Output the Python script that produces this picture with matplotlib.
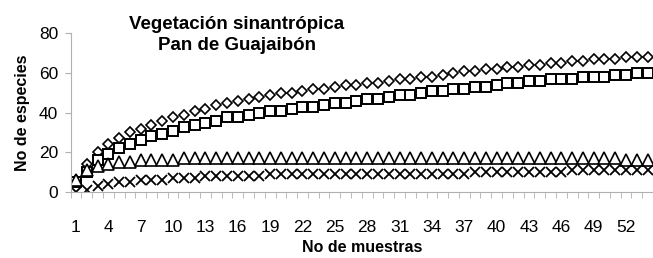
import numpy as np
import matplotlib
matplotlib.use('Agg')
import matplotlib.pyplot as plt

plt.rcParams['font.family'] = ['Liberation Sans', 'DejaVu Sans']

# Data (species accumulation, 54 samples)
muestras = np.arange(1, 55)
diamantes = [6, 14, 20, 24, 27, 30, 32, 34, 36, 38, 39, 41, 42, 44, 45, 46, 47, 48,
             49, 50, 50, 51, 52, 52, 53, 54, 54,
             55, 55, 56, 57, 57, 58, 58, 59, 60,
             61, 61, 62, 62, 63, 63, 64, 64, 65,
             65, 66, 66, 67, 67, 67, 68, 68, 68]
cuadrados = [5, 10, 16, 19, 22, 24, 26, 28, 29, 31, 33, 34, 35, 36, 38, 38, 39, 40,
             41, 41, 42, 43, 43, 44, 45, 45, 46,
             47, 47, 48, 49, 49, 50, 51, 51, 52,
             52, 53, 53, 54, 55, 55, 56, 56, 57,
             57, 57, 58, 58, 58, 59, 59, 60, 60]
triangulos = [6, 11, 13, 14, 15, 15, 16, 16, 16, 16, 17, 17, 17, 17, 17, 17, 17, 17,
              17, 17, 17, 17, 17, 17, 17, 17, 17,
              17, 17, 17, 17, 17, 17, 17, 17, 17,
              17, 17, 17, 17, 17, 17, 17, 17, 17,
              17, 17, 17, 17, 17, 17, 16, 16, 16]
cruces = [0, 1, 3, 4, 5, 5, 6, 6, 6, 7, 7, 7, 8, 8, 8, 8, 8, 8,
          9, 9, 9, 9, 9, 9, 9, 9, 9,
          9, 9, 9, 9, 9, 9, 9, 9, 9,
          9, 10, 10, 10, 10, 10, 10, 10, 10,
          10, 11, 11, 11, 11, 11, 11, 11, 11]
x_labels = muestras[::3]

fig = plt.figure(figsize=(6.53, 2.58), dpi=100)
ax = fig.add_axes([70.6 / 653, 66 / 258, 1 - 70.6 / 653, (192 - 33.3) / 258])

ax.plot(muestras, diamantes, linestyle='none', marker='D', ms=5.5,
        mfc='white', mec='black', mew=1.2)
ax.plot(muestras, cuadrados, linestyle='none', marker='s', ms=7.5,
        mfc='white', mec='black', mew=1.4)
ax.plot(muestras, triangulos, linestyle='none', marker='^', ms=8,
        mfc='white', mec='black', mew=1.2)
ax.plot(muestras, cruces, linestyle='none', marker='x', ms=6.5,
        mec='black', mew=1.3)

ax.set_xlim(0.5, 54.5)
ax.set_ylim(0, 80)
ax.set_yticks([0, 20, 40, 60, 80])
ax.set_xticks(x_labels)
ax.set_xticks(np.arange(0.5, 55, 1), minor=True)
ax.tick_params(axis='x', which='major', length=0, pad=20, labelsize=12.5)
ax.tick_params(axis='x', which='minor', length=4, color='#b0b0b0', direction='out')
ax.tick_params(axis='y', length=4, color='#b0b0b0', pad=5, labelsize=12.5)

for side in ['top', 'right']:
    ax.spines[side].set_visible(False)
for side in ['left', 'bottom']:
    ax.spines[side].set_color('#b0b0b0')

ax.set_xlabel('No de muestras', fontsize=11.5, fontweight='bold')
ax.xaxis.set_label_coords(0.5, -0.305)
ax.set_ylabel('No de especies', fontsize=11.5, fontweight='bold')
ax.yaxis.set_label_coords(-0.07, 0.5)

fig.text(237 / 653, 1 - 35 / 258, 'Vegetación sinantrópica\nPan de Guajaibón',
         ha='center', va='center', fontsize=13.5, fontweight='bold', linespacing=1.35)

fig.savefig('out.png', dpi=100)
